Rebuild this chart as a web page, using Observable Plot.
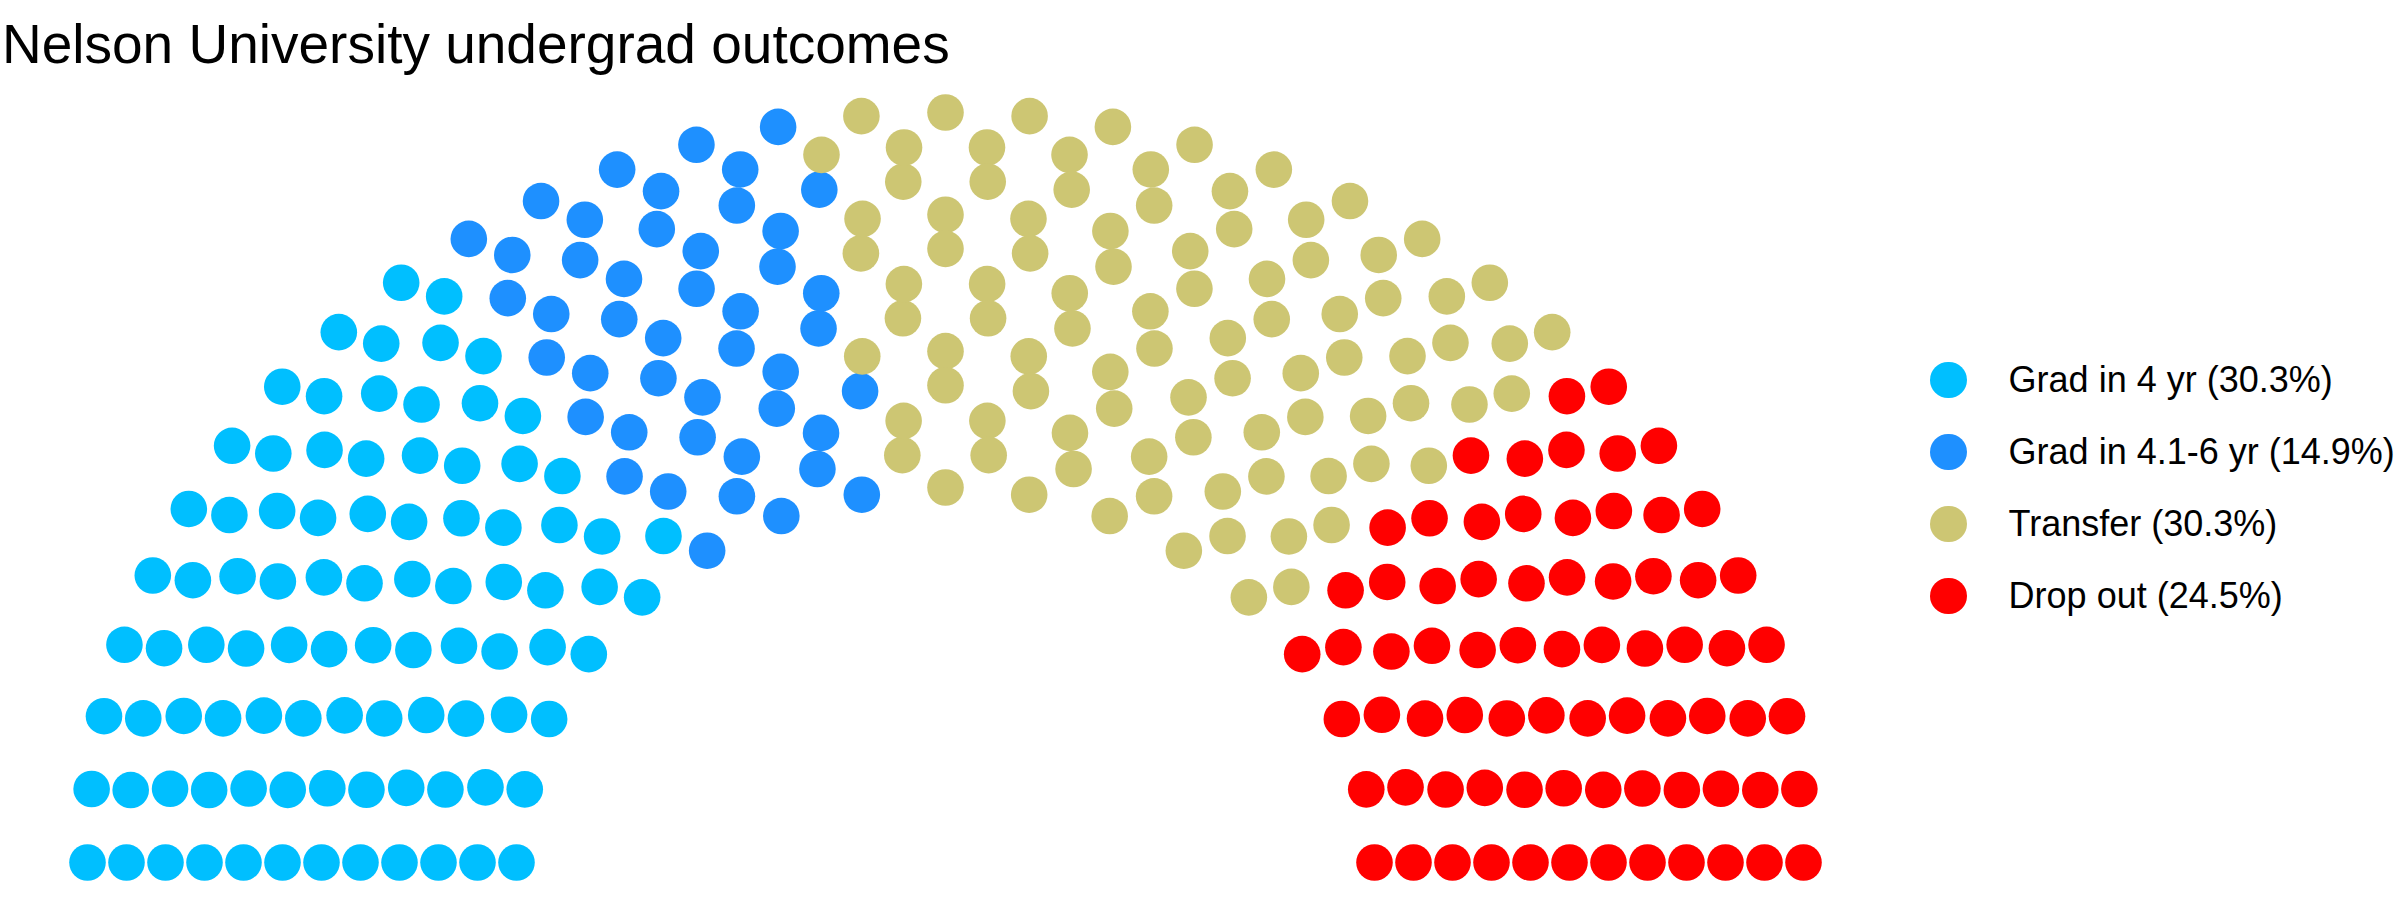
<!DOCTYPE html>
<html><head><meta charset="utf-8">
<script src="https://cdn.jsdelivr.net/npm/d3@7"></script>
<script src="https://cdn.jsdelivr.net/npm/@observablehq/plot@0.6"></script>
<style>
body{margin:0;background:#fff;font-family:"Liberation Sans",Arial,Helvetica,sans-serif;}
#wrap{position:relative;width:2400px;height:900px;overflow:hidden;background:#fff;}
#title{font-size:55px;line-height:88px;height:88px;padding-left:2px;color:#000;white-space:nowrap;}
#chart{position:absolute;left:0;top:88px;}
#legend{position:absolute;left:1930px;top:344px;}
.row{display:flex;align-items:center;height:72px;}
.sw{width:36.6px;height:36.6px;border-radius:50%;margin-right:42px;flex:none;}
.lab{font-size:36px;color:#000;white-space:nowrap;}
</style></head><body>
<div id="wrap"><div id="title">Nelson University undergrad outcomes</div><div id="chart"></div><div id="legend"></div></div>
<script>
// Data
const parties = ["Grad in 4 yr", "Grad in 4.1-6 yr", "Transfer", "Drop out"];
const seats = [91, 45, 91, 73];
const percents = [30.3, 14.9, 30.3, 24.5];
const colors = ["#00BFFF", "#1E90FF", "#CDC673", "#FF0000"];
const parlRows = 12;

// Semicircle parliament layout (ggparliament-style)
const total = d3.sum(seats);
const radii = d3.range(parlRows).map(i => i === parlRows - 1 ? 2 : 1 + i * (1 / (parlRows - 1)));
const counts = [];
let remaining = total;
for (let i = 0; i < parlRows; i++) {
  const c = Math.round(remaining * radii[i] / d3.sum(radii.slice(i)));
  counts.push(c);
  remaining -= c;
}
let pts = [];
radii.forEach((r, i) => {
  const n = counts[i];
  for (let k = 0; k < n; k++) {
    const theta = k === n - 1 ? Math.PI : k * (Math.PI / (n - 1));
    pts.push({r, theta, x: r * Math.cos(theta), y: r * Math.sin(theta)});
  }
});
pts.sort((a, b) => (b.theta - a.theta) || (b.r - a.r));
const partyOf = parties.flatMap((p, i) => Array(seats[i]).fill(p));
pts.forEach((d, i) => d.party = partyOf[i]);

const chart = Plot.plot({
  width: 1890,
  height: 812,
  marginLeft: 87,
  marginRight: 87,
  marginTop: 24,
  marginBottom: 38,
  x: {domain: [-2, 2], axis: null},
  y: {domain: [0, 2], axis: null},
  color: {domain: parties, range: colors},
  style: {background: "white"},
  marks: [
    Plot.dot(pts, {x: "x", y: "y", r: 18.3, fill: "party", stroke: "none"})
  ]
});
document.getElementById("chart").appendChild(chart);

// Legend
const legend = document.getElementById("legend");
parties.forEach((p, i) => {
  const row = document.createElement("div");
  row.className = "row";
  const sw = document.createElement("span");
  sw.className = "sw";
  sw.style.background = colors[i];
  const lab = document.createElement("span");
  lab.className = "lab";
  lab.textContent = `${p} (${percents[i].toFixed(1)}%)`;
  row.appendChild(sw);
  row.appendChild(lab);
  legend.appendChild(row);
});
</script>
</body></html>
